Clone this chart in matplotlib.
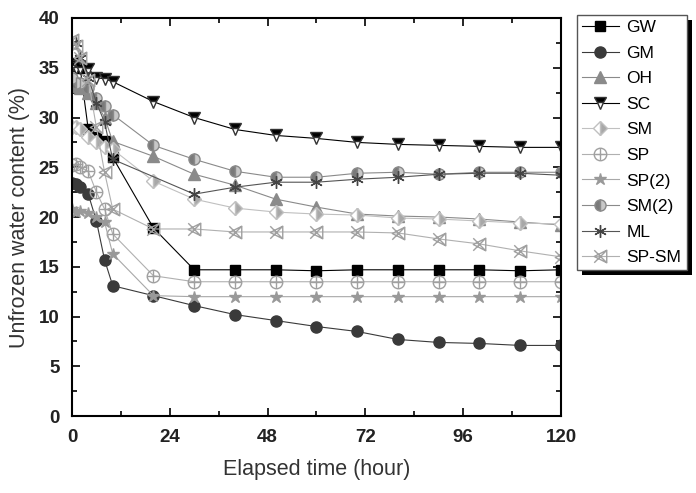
import numpy as np
import matplotlib
matplotlib.use("Agg")
import matplotlib.pyplot as plt
from matplotlib.path import Path
from matplotlib.patches import Rectangle

plt.rcParams['font.family'] = ['Liberation Sans', 'DejaVu Sans']

time = [0, 1, 2, 4, 6, 8, 10, 20, 30, 40, 50, 60, 70, 80, 90, 100, 110, 120]
time_ml = [0, 1, 2, 4, 6, 8, 10, 30, 40, 50, 60, 70, 80, 90, 100, 110, 120]

gw = [35.5, 35.2, 35.0, 28.8, 28.0, 27.6, 26.0, 18.9, 14.7, 14.7, 14.7, 14.6, 14.7, 14.7, 14.7, 14.7, 14.6, 14.7]
gm = [23.4, 23.3, 23.0, 22.3, 19.6, 15.7, 13.1, 12.1, 11.1, 10.2, 9.6, 9.0, 8.5, 7.7, 7.4, 7.3, 7.1, 7.1]
oh = [33.2, 33.3, 33.0, 32.5, 31.5, 30.0, 27.6, 26.1, 24.3, 23.2, 21.8, 21.0, 20.3, 20.1, 20.0, 19.8, 19.5, 19.2]
sc = [35.2, 35.0, 35.0, 34.9, 34.0, 33.9, 33.6, 31.6, 30.0, 28.8, 28.2, 27.9, 27.5, 27.3, 27.2, 27.1, 27.0, 27.0]
sm = [29.0, 29.0, 28.8, 28.0, 27.5, 27.0, 26.8, 23.6, 21.8, 20.9, 20.5, 20.3, 20.2, 19.9, 19.8, 19.6, 19.4, 19.3]
sp = [25.2, 25.3, 25.0, 24.6, 22.5, 20.8, 18.3, 14.1, 13.5, 13.5, 13.5, 13.5, 13.5, 13.5, 13.5, 13.5, 13.5, 13.5]
sp2 = [20.8, 20.5, 20.6, 20.4, 20.0, 19.5, 16.3, 12.1, 12.0, 12.0, 12.0, 12.0, 12.0, 12.0, 12.0, 12.0, 12.0, 12.0]
sm2 = [34.0, 33.5, 33.5, 33.0, 32.0, 31.2, 30.3, 27.2, 25.8, 24.6, 24.0, 24.0, 24.4, 24.5, 24.3, 24.5, 24.5, 24.5]
ml = [37.5, 37.5, 36.0, 34.0, 31.5, 29.5, 25.8, 22.3, 23.0, 23.5, 23.5, 23.8, 24.0, 24.3, 24.4, 24.4, 24.2]
spsm = [37.8, 37.2, 36.0, 33.8, 29.0, 24.5, 20.8, 18.8, 18.8, 18.5, 18.5, 18.5, 18.5, 18.4, 17.8, 17.3, 16.6, 16.0]

labels = ['GW', 'GM', 'OH', 'SC', 'SM', 'SP', 'SP(2)', 'SM(2)', 'ML', 'SP-SM']

# custom markers
circ = Path.unit_circle()
oplus = Path.make_compound_path(circ, Path([[-1, 0], [1, 0]]), Path([[0, -1], [0, 1]]))
tri = Path([[1, 1], [-1, 0], [1, -1], [1, 1]], [Path.MOVETO, Path.LINETO, Path.LINETO, Path.CLOSEPOLY])
xtri = Path.make_compound_path(tri, Path([[-1, -1], [1, 1]]), Path([[-1, 1], [1, -1]]))

fig = plt.figure(figsize=(6.96, 4.93), dpi=100)
ax = fig.add_axes([0.1034, 0.156, 0.7026, 0.8075])

lw = 0.8
ax.plot(time, gw, color='#000000', lw=lw, marker='s', ms=7, label=labels[0])
ax.plot(time, gm, color='#3a3a3a', lw=lw, marker='o', ms=8, label=labels[1])
ax.plot(time, oh, color='#8a8a8a', lw=lw, marker='^', ms=8, label=labels[2])
ax.plot(time, sc, color='#000000', lw=lw, marker='v', ms=8, fillstyle='top',
        markerfacecolor='#000000', markerfacecoloralt='white', markeredgecolor='#333333', label=labels[3])
ax.plot(time, sm, color='#c0c0c0', lw=lw, marker='D', ms=7, fillstyle='right',
        markerfacecolor='#a8a8a8', markerfacecoloralt='white', markeredgecolor='#c0c0c0', label=labels[4])
ax.plot(time, sp, color='#b0b0b0', lw=lw, marker=oplus, ms=9, markerfacecolor='none',
        markeredgecolor='#a0a0a0', label=labels[5])
ax.plot(time, sp2, color='#a8a8a8', lw=lw, marker='*', ms=9, markerfacecolor='#999999',
        markeredgecolor='#999999', label=labels[6])
ax.plot(time, sm2, color='#8a8a8a', lw=lw, marker='o', ms=8, fillstyle='left',
        markerfacecolor='#7a7a7a', markerfacecoloralt='#c8c8c8', markeredgecolor='#8a8a8a', label=labels[7])
ax.plot(time_ml, ml, color='#555555', lw=lw, marker=(6, 2, 0), ms=9, markeredgewidth=1.0,
        markeredgecolor='#444444', label=labels[8])
ax.plot(time, spsm, color='#b0b0b0', lw=lw, marker=xtri, ms=9, markerfacecolor='none',
        markeredgecolor='#a0a0a0', label=labels[9])

ax.set_xlim(0, 120)
ax.set_ylim(0, 40)
ax.set_xticks([0, 24, 48, 72, 96, 120])
ax.set_xticks([12, 36, 60, 84, 108], minor=True)
ax.set_yticks(range(0, 41, 5))
ax.set_yticks(np.arange(2.5, 40, 5), minor=True)
ax.tick_params(which='both', direction='in', top=True, right=True, width=1.2)
ax.tick_params(which='major', length=6, labelsize=13.5)
ax.tick_params(axis='x', which='major', pad=9)
ax.tick_params(axis='y', which='major', pad=9)
ax.tick_params(which='minor', length=3.5)
for lab in ax.get_xticklabels() + ax.get_yticklabels():
    lab.set_fontweight('bold')
    lab.set_color('#222222')
for s in ax.spines.values():
    s.set_linewidth(1.5)

ax.set_xlabel('Elapsed time (hour)', fontsize=15.5, color='#333333', labelpad=10)
ax.set_ylabel('Unfrozen water content (%)', fontsize=15.5, color='#333333', labelpad=6)

leg = ax.legend(loc='upper left', bbox_to_anchor=(0.829, 0.97), bbox_transform=fig.transFigure,
                fontsize=12.5, frameon=True, fancybox=False, handlelength=2.1, framealpha=1,
                handletextpad=0.45, labelspacing=0.6, borderpad=0.3, borderaxespad=0)
leg.get_frame().set_edgecolor('#555555')
leg.get_frame().set_linewidth(1.0)

fig.canvas.draw()
bb = leg.get_window_extent()
shadow = Rectangle((bb.x0 + 5, bb.y0 - 5), bb.width, bb.height, transform=None,
                   facecolor='black', edgecolor='none', zorder=-1)
fig.patches.append(shadow)

fig.savefig('out.png', dpi=100)
